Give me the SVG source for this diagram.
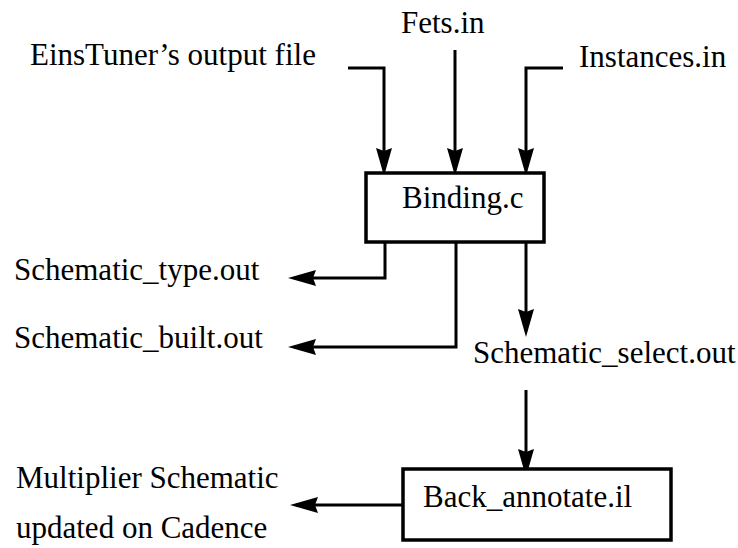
<svg xmlns="http://www.w3.org/2000/svg" width="738" height="548" viewBox="0 0 738 548">
  <style>
    .lbl { font-family: "Liberation Serif", "Times New Roman", serif; font-size: 31px; fill: #000; }
    .box { fill: #fff; stroke: #000; stroke-width: 3.5; }
    .wire { fill: none; stroke: #000; stroke-width: 3; marker-end: url(#head); }
  </style>
  <defs>
    <marker id="head" viewBox="0 0 28 16" markerWidth="28" markerHeight="16" refX="22" refY="8" orient="auto" markerUnits="userSpaceOnUse">
      <path d="M0,0 L28,8 L0,16 L3,8 Z" fill="#000"/>
    </marker>
  </defs>

  <rect width="738" height="548" fill="#fff"/>

  <!-- input / output file labels -->
  <g id="einstuner-output">
    <text class="lbl" x="30" y="65">EinsTuner’s output file</text>
  </g>
  <g id="fets-in">
    <text class="lbl" x="401" y="33">Fets.in</text>
  </g>
  <g id="instances-in">
    <text class="lbl" x="579" y="67">Instances.in</text>
  </g>
  <g id="schematic-type">
    <text class="lbl" x="14" y="280">Schematic_type.out</text>
  </g>
  <g id="schematic-built">
    <text class="lbl" x="14" y="348">Schematic_built.out</text>
  </g>
  <g id="schematic-select">
    <text class="lbl" x="473" y="363">Schematic_select.out</text>
  </g>
  <g id="multiplier-schematic">
    <text class="lbl" x="16" y="488">Multiplier Schematic</text>
    <text class="lbl" x="16" y="538">updated on Cadence</text>
  </g>

  <!-- connectors -->
  <g id="connectors">
    <path class="wire" d="M348,68 H384 V170"/>
    <path class="wire" d="M455,50 V170"/>
    <path class="wire" d="M563,68 H526 V170"/>
    <path class="wire" d="M385,242 V278 H294"/>
    <path class="wire" d="M456,242 V347 H294"/>
    <path class="wire" d="M526,242 V331"/>
    <path class="wire" d="M526,390 V471"/>
    <path class="wire" d="M403,505 H296"/>
  </g>

  <!-- process boxes -->
  <g id="binding">
    <rect class="box" x="366" y="173" width="178" height="69"/>
    <text class="lbl" x="402" y="208">Binding.c</text>
  </g>
  <g id="back-annotate">
    <rect class="box" x="403" y="469" width="268" height="71"/>
    <text class="lbl" x="423" y="507">Back_annotate.il</text>
  </g>
</svg>
